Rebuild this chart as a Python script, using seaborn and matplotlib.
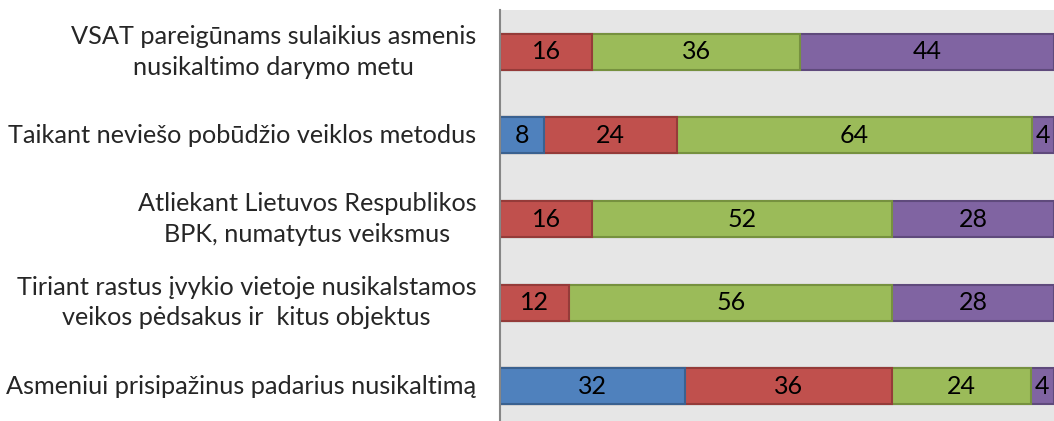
import pandas as pd
import numpy as np
import seaborn as sns
import matplotlib.pyplot as plt

categories = [
    "VSAT pareigūnams sulaikius asmenis\nnusikaltimo darymo metu",
    "Taikant neviešo pobūdžio veiklos metodus",
    "Atliekant Lietuvos Respublikos\nBPK, numatytus veiksmus",
    "Tiriant rastus įvykio vietoje nusikalstamos\nveikos pėdsakus ir  kitus objektus",
    "Asmeniui prisipažinus padarius nusikaltimą",
]
blue = [0, 8, 0, 0, 32]
red = [16, 24, 16, 12, 36]
green = [36, 64, 52, 56, 24]
purple = [44, 4, 28, 28, 4]

series = [blue, red, green, purple]
fills = ["#4F81BD", "#C0504D", "#9BBB59", "#8064A2"]
edges = ["#3A6190", "#953B39", "#76913F", "#5F4A7C"]

sns.set_style("white")
plt.rcParams['font.family'] = ['Lato', 'DejaVu Sans']

vals = np.array(series, dtype=float)
share = vals / vals.sum(axis=0) * 100
cum = share.cumsum(axis=0)

fig = plt.figure(figsize=(10.54, 4.21), dpi=100)
ax = fig.add_axes([500 / 1054, -7 / 421, 554 / 1054, 418 / 421])
ax.set_facecolor("#E6E6E6")

# draw cumulative bars from the longest to the shortest so they stack
for i in range(3, -1, -1):
    df = pd.DataFrame({"cat": categories, "x": cum[i]})
    df.loc[vals[i] == 0, "x"] = np.nan
    sns.barplot(data=df, x="x", y="cat", orient="h", color=fills[i],
                saturation=1, width=0.43, edgecolor=edges[i], linewidth=1.5, ax=ax)

for i in range(4):
    for j in range(len(categories)):
        if vals[i, j] > 0:
            xc = cum[i, j] - share[i, j] / 2
            ax.text(xc, j, f"{int(vals[i, j])}", ha="center", va="center", fontsize=18, color="black")

ax.set_xlim(0, 100)
ax.set_ylim(4.5, -0.5)
ax.set_xlabel("")
ax.set_ylabel("")
ax.set_xticks([])
ax.tick_params(axis="y", length=0, pad=17)
for lab in ax.get_yticklabels():
    lab.set_fontsize(18.2)
    lab.set_multialignment("center")
    lab.set_linespacing(1.4)
    lab.set_verticalalignment("center")
for s in ["top", "right", "bottom"]:
    ax.spines[s].set_visible(False)
ax.spines["left"].set_color("#868686")
ax.spines["left"].set_linewidth(1.5)

fig.savefig("out.png", dpi=100)
